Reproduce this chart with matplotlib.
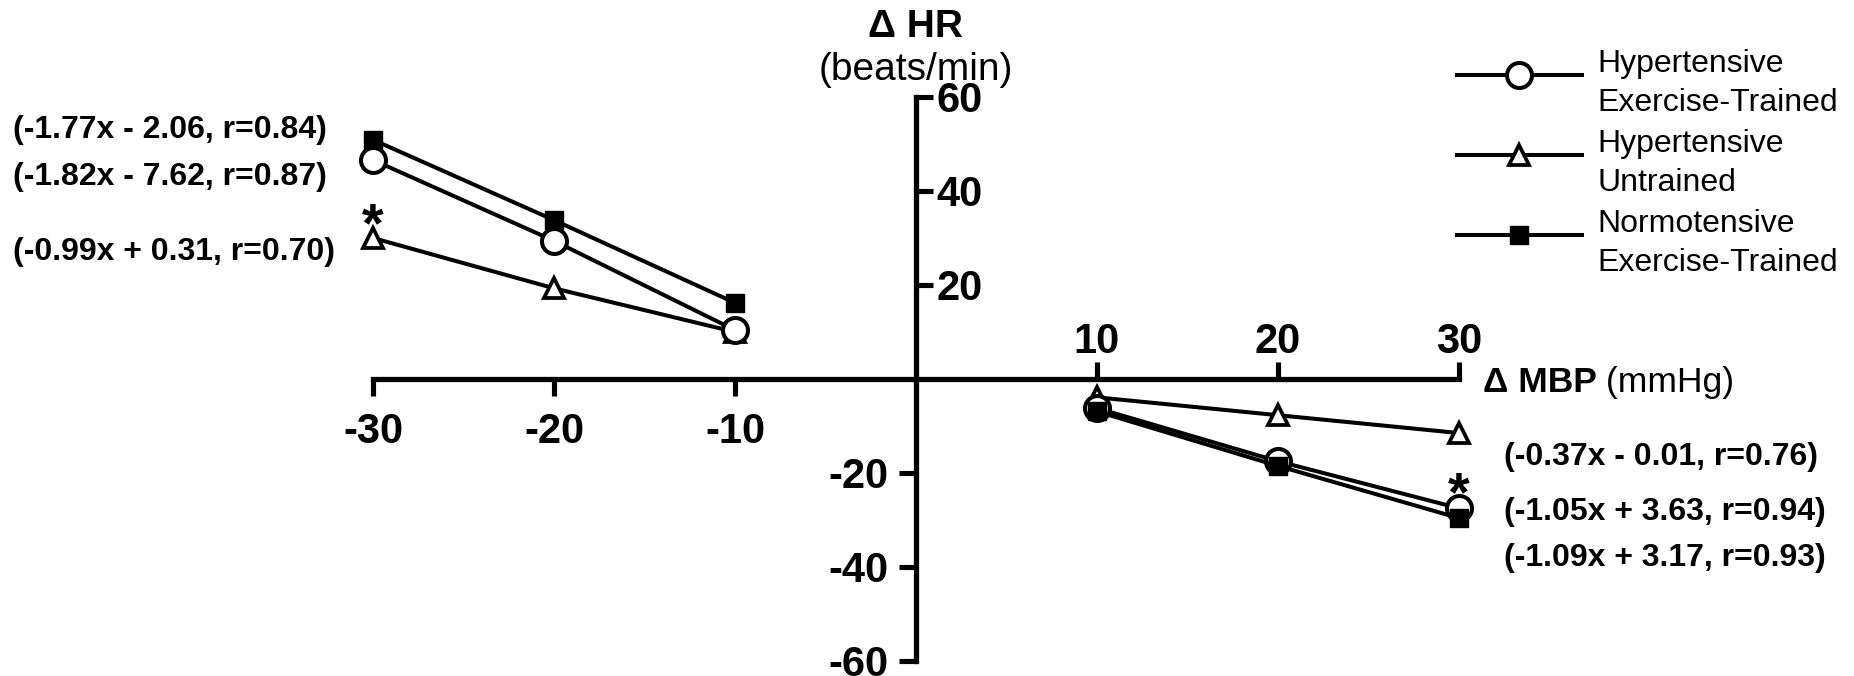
import matplotlib.pyplot as plt
from matplotlib.transforms import Affine2D

plt.rcParams['font.family'] = ['Liberation Sans', 'DejaVu Sans']

# data (delta MBP vs delta HR)
x_neg = [-30, -20, -10]
x_pos = [10, 20, 30]

hyp_trained_neg = [46.6, 29.4, 10.4]
hyp_trained_pos = [-6.2, -17.5, -27.5]
hyp_untrained_neg = [30.0, 19.3, 10.0]
hyp_untrained_pos = [-3.9, -7.7, -11.5]
norm_trained_neg = [50.9, 33.8, 16.2]
norm_trained_pos = [-6.9, -18.5, -29.6]

labels = ['Hypertensive\nExercise-Trained',
          'Hypertensive\nUntrained',
          'Normotensive\nExercise-Trained']

eq_neg = ['(-1.77x - 2.06, r=0.84)',
          '(-1.82x - 7.62, r=0.87)',
          '(-0.99x + 0.31, r=0.70)']
eq_pos = ['(-0.37x - 0.01, r=0.76)',
          '(-1.05x + 3.63, r=0.94)',
          '(-1.09x + 3.17, r=0.93)']

x_ticks = [-30, -20, -10, 10, 20, 30]
y_ticks = [-60, -40, -20, 20, 40, 60]

W, H = 1854, 676
fig = plt.figure(figsize=(W / 100, H / 100), dpi=100)
ax = fig.add_axes([373 / W, 15 / H, (1459 - 373) / W, (661 - 97) / H])
ax.set_xlim(-30, 30)
ax.set_ylim(-60, 60)
ax.patch.set_visible(False)

LW = 2.9
circ = dict(color='black', lw=LW, marker='o', ms=18, mfc='white', mec='black', mew=2.9)
tri = dict(color='black', lw=LW, marker='^', ms=14, mfc='white', mec='black', mew=2.7)
sq = dict(color='black', lw=LW, marker='s', ms=13, mfc='black', mec='black', mew=1)

# left half
h_sq, = ax.plot(x_neg, norm_trained_neg, clip_on=False, zorder=3, **sq)
h_tri, = ax.plot(x_neg, hyp_untrained_neg, clip_on=False, zorder=4, **tri)
h_circ, = ax.plot(x_neg, hyp_trained_neg, clip_on=False, zorder=5, **circ)
# right half
ax.plot(x_pos, hyp_untrained_pos, clip_on=False, zorder=3, **tri)
ax.plot(x_pos, hyp_trained_pos, clip_on=False, zorder=4, **circ)
ax.plot(x_pos, norm_trained_pos, clip_on=False, zorder=5, **sq)

# axes through the origin
for s in ['left', 'right']:
    ax.spines[s].set_position(('data', 0))
    ax.spines[s].set_bounds(-60, 60)
    ax.spines[s].set_linewidth(3.7)
for s in ['bottom', 'top']:
    ax.spines[s].set_position(('data', 0))
    ax.spines[s].set_bounds(-30, 30)
    ax.spines[s].set_linewidth(3.7)

ax.set_xticks(x_ticks)
ax.set_yticks(y_ticks)
ax.set_xticklabels([str(v) for v in x_ticks])
ax.set_yticklabels([str(v) for v in y_ticks])
ax.tick_params(axis='both', direction='out', length=12, width=3.7,
               labelsize=30)
ax.tick_params(axis='y', left=True, right=True, labelleft=True, labelright=True, pad=8)
ax.tick_params(axis='x', bottom=True, top=True, labelbottom=True, labeltop=True, pad=12)
for lab in ax.get_xticklabels() + ax.get_yticklabels():
    lab.set_fontweight('bold')

fig.canvas.draw()
for t, v in zip(ax.yaxis.get_major_ticks(), y_ticks):
    if v > 0:
        t.tick1line.set_visible(False)
        t.label1.set_visible(False)
        t.set_pad(3)
    else:
        t.tick2line.set_visible(False)
        t.label2.set_visible(False)
for t, v in zip(ax.xaxis.get_major_ticks(), x_ticks):
    if v > 0:
        t.tick1line.set_visible(False)
        t.label1.set_visible(False)
        t.set_pad(0)
    else:
        t.tick2line.set_visible(False)
        t.label2.set_visible(False)

# axis titles
ax.text(0, 74.8, 'Δ HR', ha='center', va='center', fontsize=28, fontweight='bold')
ax.text(0, 65.8, '(beats/min)', ha='center', va='center', fontsize=28)
t_mbp = ax.text(31.3, -0.8, 'Δ MBP', ha='left', va='center', fontsize=25.5, fontweight='bold')
ax.annotate(' (mmHg)', xy=(1, 0), xycoords=t_mbp, ha='left', va='bottom', fontsize=25.5)

# regression equations
for txt, y in zip(eq_neg, [53.0, 43.0, 27.1]):
    ax.text(-49.9, y, txt, ha='left', va='center', fontsize=23, fontweight='bold')
for txt, y in zip(eq_pos, [-16.5, -28.4, -38.1]):
    ax.text(32.5, y, txt, ha='left', va='center', fontsize=23, fontweight='bold')

# significance markers
ax.text(-30, 29.4, '*', ha='center', va='baseline', fontsize=40, fontweight='bold')
ax.text(30, -27.9, '*', ha='center', va='baseline', fontsize=40, fontweight='bold')

leg = ax.legend([h_circ, h_tri, h_sq], labels, loc='upper left',
                bbox_to_anchor=(1457 / W, 1 - 49 / H), bbox_transform=fig.transFigure,
                frameon=False, fontsize=23, handlelength=3.9, handletextpad=0.5,
                labelspacing=0.35, borderpad=0, borderaxespad=0)
for t in leg.get_texts():
    t.set_linespacing(1.38)
# legend lines sit a bit above the middle of each two-line label
for ln in leg.get_lines():
    ln.set_transform(ln.get_transform() + Affine2D().translate(0, 9))

fig.savefig('out.png', dpi=100, facecolor='white')
